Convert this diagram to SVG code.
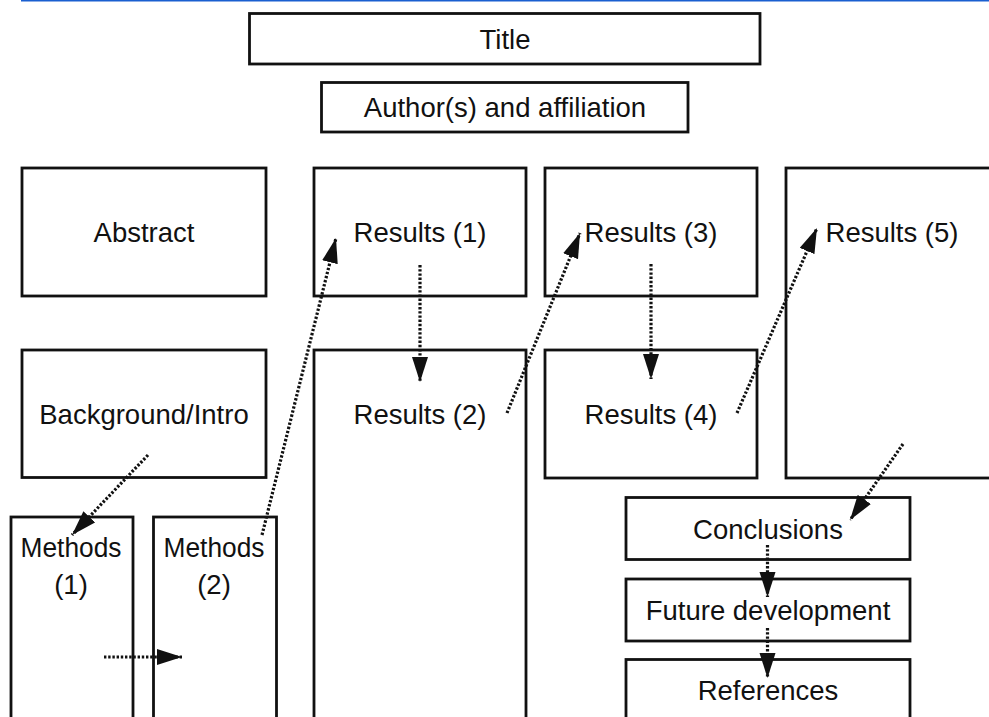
<svg xmlns="http://www.w3.org/2000/svg" width="989" height="717" viewBox="0 0 989 717">
<style>
.box{fill:#fff;stroke:#111;stroke-width:2.8}
.lbl{font-family:"Liberation Sans",Arial,Helvetica,sans-serif;font-size:27.5px;fill:#111;text-anchor:middle}
.con{fill:none;stroke:#111;stroke-width:3.2;stroke-dasharray:2.4 1.8}
</style>
<defs>
<marker id="ah" markerUnits="userSpaceOnUse" markerWidth="27" markerHeight="17" refX="25" refY="8" orient="auto">
<path d="M0,0 L25,8 L0,16 Z" fill="#111"/>
</marker>
</defs>
<rect width="989" height="717" fill="#fff"/>
<line x1="21" y1="0.7" x2="989" y2="0.7" stroke="#1a5fd0" stroke-width="1.6"/>
<g id="title"><rect class="box" x="249.5" y="13.5" width="510.5" height="50.5"/><text class="lbl" x="505" y="49">Title</text></g>
<g id="authors"><rect class="box" x="321.5" y="82.5" width="366.5" height="49.5"/><text class="lbl" x="505" y="117">Author(s) and affiliation</text></g>
<g id="abstract"><rect class="box" x="22" y="168" width="244" height="128"/><text class="lbl" x="144" y="242">Abstract</text></g>
<g id="background"><rect class="box" x="22" y="350" width="244" height="127.5"/><text class="lbl" x="144" y="424">Background/Intro</text></g>
<g id="methods1"><rect class="box" x="11" y="517" width="122" height="210"/><text class="lbl" x="71" y="557" textLength="101" lengthAdjust="spacingAndGlyphs">Methods</text><text class="lbl" x="71" y="594">(1)</text></g>
<g id="methods2"><rect class="box" x="153.5" y="517" width="123" height="210"/><text class="lbl" x="214" y="557" textLength="101" lengthAdjust="spacingAndGlyphs">Methods</text><text class="lbl" x="214" y="594">(2)</text></g>
<g id="results1"><rect class="box" x="314" y="168" width="212" height="128"/><text class="lbl" x="420" y="242">Results (1)</text></g>
<g id="results2"><rect class="box" x="314" y="350" width="212" height="377"/><text class="lbl" x="420" y="424">Results (2)</text></g>
<g id="results3"><rect class="box" x="545" y="168" width="212" height="128"/><text class="lbl" x="651" y="242">Results (3)</text></g>
<g id="results4"><rect class="box" x="545" y="350" width="212" height="128"/><text class="lbl" x="651" y="424">Results (4)</text></g>
<g id="results5"><rect class="box" x="786" y="168" width="220" height="310"/><text class="lbl" x="892" y="242">Results (5)</text></g>
<g id="conclusions"><rect class="box" x="626" y="497.5" width="284" height="62"/><text class="lbl" x="768" y="538.5">Conclusions</text></g>
<g id="future"><rect class="box" x="626" y="579" width="284" height="62"/><text class="lbl" x="768" y="620">Future development</text></g>
<g id="references"><rect class="box" x="626" y="659.5" width="284" height="70"/><text class="lbl" x="768" y="700">References</text></g>
<g id="connectors">
<line class="con" x1="148" y1="455" x2="72" y2="535" marker-end="url(#ah)"/>
<line class="con" x1="104" y1="657" x2="182" y2="657" marker-end="url(#ah)"/>
<line class="con" x1="262" y1="535" x2="336" y2="238" marker-end="url(#ah)"/>
<line class="con" x1="420" y1="265" x2="420" y2="382" marker-end="url(#ah)"/>
<line class="con" x1="507" y1="413" x2="580" y2="233" marker-end="url(#ah)"/>
<line class="con" x1="651" y1="264" x2="651" y2="379" marker-end="url(#ah)"/>
<line class="con" x1="737" y1="413" x2="817" y2="228" marker-end="url(#ah)"/>
<line class="con" x1="903" y1="444" x2="850" y2="520" marker-end="url(#ah)"/>
<line class="con" x1="767.5" y1="545" x2="767.5" y2="597" marker-end="url(#ah)"/>
<line class="con" x1="767.5" y1="628" x2="767.5" y2="678" marker-end="url(#ah)"/>
</g>
</svg>
